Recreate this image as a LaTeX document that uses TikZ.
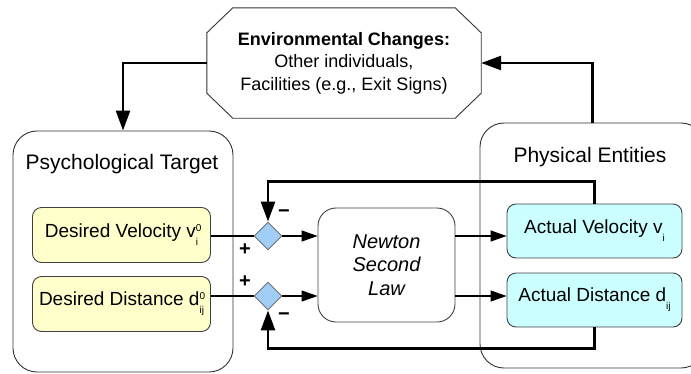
\documentclass[tikz,border=0pt]{standalone}
\usepackage{fontspec}
\setmainfont{Liberation Sans}
\usetikzlibrary{shapes.geometric, positioning, arrows.meta}
\definecolor{wantfill}{RGB}{255,255,204}
\definecolor{gotfill}{RGB}{204,255,255}
\definecolor{sumfill}{RGB}{160,206,246}
\newcommand{\tinyfont}{\fontsize{10}{10}\selectfont}
\newcommand{\supsub}[2]{\rlap{\raisebox{0.65ex}{\tinyfont #1}}\raisebox{-0.8ex}{\tinyfont #2}}
\newcommand{\subonly}[1]{\raisebox{-0.8ex}{\tinyfont #1}}
\tikzset{
frame/.style={draw=black!80, line width=0.9pt},
group/.style={frame, rounded corners=24pt},
title/.style={font=\fontsize{21}{24}\selectfont},
box/.style={draw=black!75, rounded corners=9pt, line width=0.9pt, minimum width=178pt, minimum height=55pt, inner sep=0, font=\fontsize{19}{22}\selectfont},
target/.style={box, fill=wantfill},
entity/.style={box, fill=gotfill, minimum width=175pt, minimum height=54pt},
junction/.style={diamond, draw=black!55, fill=sumfill, minimum size=28pt, inner sep=0, line width=0.9pt},
flow/.style={line width=1.2pt},
loop/.style={line width=2.6pt, -{Triangle[length=20pt, width=14pt]}},
sign/.style={font=\fontsize{20}{20}\selectfont\bfseries, inner sep=0}}

\begin{document}
\begin{tikzpicture}[x=1pt, y=-1pt]
\useasboundingbox (0,0) rectangle (691,373);
\node [minimum width=274pt, minimum height=110pt, inner sep=0, align=center, font=\fontsize{18}{22.5}\selectfont] (env) at (344,63) {\textbf{Environmental Changes:}\\Other individuals,\\Facilities (e.g., Exit Signs)};
% octagon round the environment text
\draw [frame] ([xshift=26pt]env.north west) -- ([xshift=-26pt]env.north east) -- ([yshift=-25pt]env.north east) -- ([yshift=25pt]env.south east) -- ([xshift=-26pt]env.south east) -- ([xshift=26pt]env.south west) -- ([yshift=25pt]env.south west) -- ([yshift=-25pt]env.north west) -- cycle;
\node [group, minimum width=220pt, minimum height=241pt] (psych) at (123,251.5) {};
\node [group, minimum width=225pt, minimum height=245pt] (phys) at (592.5,245.5) {};
\node [title] (psych-title) at (122,164) {Psychological Target};
\node [title] (phys-title) at (590,157) {Physical Entities};
\node [draw=black!75, line width=0.9pt, rounded corners=18pt, minimum width=137pt, minimum height=114pt, align=center, font=\fontsize{20}{23.5}\selectfont\itshape] (newton) at (386.5,265) {Newton\\Second\\Law};
\foreach \want/\got [count=\j, evaluate={\yb=166+69*\j; \ya=162+69*\j; \yj=176+60*\j;}] in {{Desired Velocity v\supsub{0}{i}}/{Actual Velocity v\subonly{i}}, {Desired Distance d\supsub{0}{ij}}/{Actual Distance d\subonly{ij}}}{
      \node [target] (want-\j) at (121.5,\yb) {\want};
      \node [entity] (got-\j) at (594.5,\ya) {\got};
      \node [junction] (sum-\j) at (268,\yj) {};
      \draw [flow] (sum-\j -| want-\j.east) -- (sum-\j);
      \draw [flow, -{Triangle[length=16pt, width=11pt]}] (sum-\j) -- (sum-\j -| newton.west);
      \draw [flow, -{Triangle[length=16pt, width=11pt]}] (sum-\j -| newton.east) -- (sum-\j -| got-\j.west);
      \ifnum\j=1
          \node [sign] (minus-\j) at ([shift={(16,-22)}]sum-\j) {−};
          \node [sign] (plus-\j) at ([shift={(-23,14)}]sum-\j) {+};
          \draw [loop] (got-\j.north) -- ++(0,-22) -| (sum-\j.north);
      \else
          \node [sign] (minus-\j) at ([shift={(16,21)}]sum-\j) {−};
          \node [sign] (plus-\j) at ([shift={(-23,-14)}]sum-\j) {+};
          \draw [loop] (got-\j.south) -- ++(0,21) -| (sum-\j.south);
      \fi
}
\draw [loop] (env.west) -| (psych.north);
\draw [loop] (phys.north) |- (env.east);
\end{tikzpicture}
\end{document}
